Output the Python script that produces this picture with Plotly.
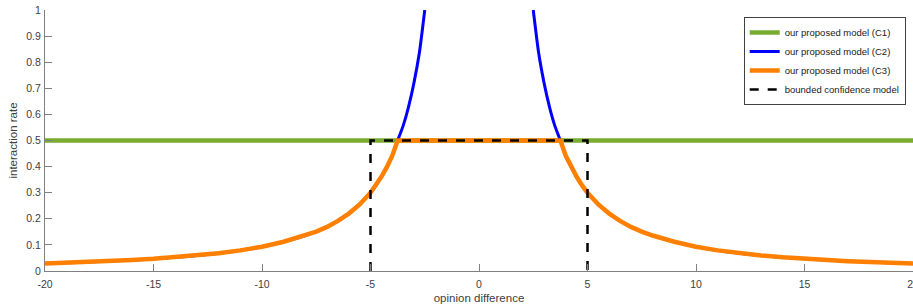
import plotly.graph_objects as go

# ---- data ----
# C1: constant rate
c1_x = [-20, 20]
c1_y = [0.5, 0.5]

# C2 / C3 decay curve magnitudes, read at positive |opinion difference|
curve_x = [2.5, 2.75, 3.0, 3.25, 3.5, 3.75, 4.0, 4.25, 4.5, 4.75, 5.0, 5.5, 6.0, 6.5, 7.0,
           7.5, 8.0, 9.0, 10.0, 11.0, 12.0, 13.0, 14.0, 15.0, 16.0, 17.0, 18.0, 19.0, 20.0]
curve_y = [1.0, 0.835, 0.72, 0.628, 0.555, 0.50, 0.441, 0.398, 0.361, 0.328, 0.300, 0.255,
           0.220, 0.192, 0.169, 0.151, 0.136, 0.112, 0.0930, 0.0790, 0.0680, 0.0595, 0.0525,
           0.0468, 0.0420, 0.0378, 0.0342, 0.0312, 0.0286]

# C3 plateau
plateau_x = 3.75
plateau_y = 0.5

# bounded confidence model
bc_x = [-5, -5, 5, 5]
bc_y = [0, 0.5, 0.5, 0]

x_ticks = [-20, -15, -10, -5, 0, 5, 10, 15, 20]
y_ticks = [0, 0.1, 0.2, 0.3, 0.4, 0.5, 0.6, 0.7, 0.8, 0.9, 1]

# ---- build symmetric series ----
neg_x = [-v for v in reversed(curve_x)]
neg_y = list(reversed(curve_y))

c2_x = neg_x + [None] + curve_x
c2_y = neg_y + [None] + curve_y

left = [(x, y) for x, y in zip(neg_x, neg_y) if x <= -plateau_x]
right = [(x, y) for x, y in zip(curve_x, curve_y) if x >= plateau_x]
c3_x = [p[0] for p in left] + [p[0] for p in right]
c3_y = [p[1] for p in left] + [p[1] for p in right]

FONT = "Arial, Liberation Sans, sans-serif"

fig = go.Figure()
fig.add_trace(go.Scatter(x=c1_x, y=c1_y, mode="lines", name="our proposed model (C1)",
                         line=dict(color="#77AC30", width=4.5)))
fig.add_trace(go.Scatter(x=c2_x, y=c2_y, mode="lines", name="our proposed model (C2)",
                         line=dict(color="#0000FF", width=3, shape="spline", smoothing=0.6),
                         connectgaps=False))
fig.add_trace(go.Scatter(x=c3_x, y=c3_y, mode="lines", name="our proposed model (C3)",
                         line=dict(color="#FF8000", width=4.5)))
fig.add_trace(go.Scatter(x=bc_x, y=bc_y, mode="lines", name="bounded confidence model",
                         line=dict(color="#000000", width=2.5, dash="dash")))

axis_common = dict(showgrid=False, zeroline=False, showline=True, linecolor="#808080",
                   linewidth=1, ticks="inside", ticklen=7, tickcolor="#808080",
                   tickfont=dict(family=FONT, size=10.5, color="#404040"), mirror=False,
                   automargin=False, ticklabeloverflow="allow")

fig.update_layout(
    width=913, height=306,
    margin=dict(l=45, r=0, t=10, b=35),
    paper_bgcolor="white", plot_bgcolor="white",
    showlegend=True,
    legend=dict(x=0.9916, y=0.973, xanchor="right", yanchor="top",
                bgcolor="white", bordercolor="#404040", borderwidth=1,
                font=dict(family=FONT, size=9.5, color="#202020"),
                tracegroupgap=0, itemwidth=30),
    xaxis=dict(range=[-20, 20], tickvals=x_ticks, ticktext=[str(v) for v in x_ticks],
               ticklabelstandoff=3,
               title=dict(text="opinion difference", standoff=5,
                          font=dict(family=FONT, size=11.5, color="#404040")),
               **axis_common),
    yaxis=dict(range=[0, 1], tickvals=y_ticks, ticktext=[("%g" % v) for v in y_ticks],
               ticklabelstandoff=1,
               title=dict(text="interaction rate", standoff=6,
                          font=dict(family=FONT, size=11.5, color="#404040")),
               **axis_common),
)

fig.write_html("out.html", config={"displayModeBar": False},
               post_script="document.body.style.margin='0';document.body.style.overflow='hidden';")
